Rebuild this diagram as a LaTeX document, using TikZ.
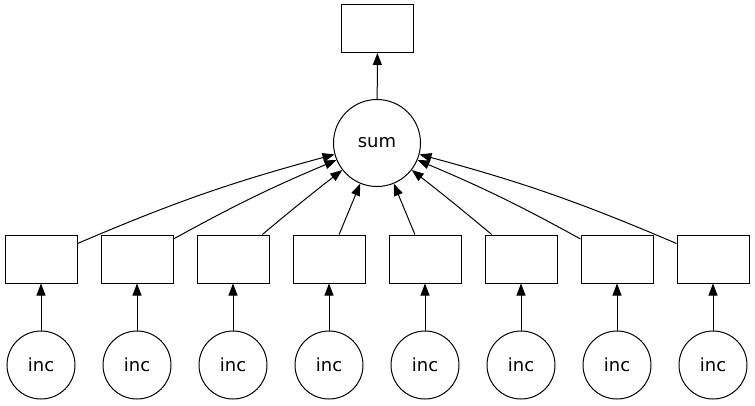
\documentclass[tikz,border=0pt]{standalone}
\usepackage{fontspec}
\setmainfont{DejaVu Sans}
\usetikzlibrary{arrows.meta}

\begin{document}
\begin{tikzpicture}[x=1pt, y=1pt, line width=1pt,
    chunk/.style={draw, rectangle, minimum width=72pt, minimum height=48pt, inner sep=0pt},
    task/.style={draw, circle, inner sep=0pt, font=\fontsize{18}{22}\selectfont},
    dep/.style={-{Triangle[length=12pt, width=9pt]}}]

    \useasboundingbox (0,0) rectangle (755,405);

    % result and reduction
    \node[chunk] (out) at (377.5,376.5) {};
    \node[task, minimum size=87pt] (sum) at (377,262) {sum};
    \path[draw, dep] (sum) -- (out);

    % the eight chunks and their tasks
    \foreach \i/\bend in {1/4, 2/3, 3/1, 4/0, 5/0, 6/-1, 7/-3, 8/-4} {
        \node[chunk] (chunk\i) at ({41+96*(\i-1)},146) {};
        \node[task, minimum size=68pt] (inc\i) at ({41+96*(\i-1)},40) {inc};
        \path[draw, dep] (inc\i) -- (chunk\i);
        \path[draw, dep] (chunk\i) to[bend left=\bend] (sum);
    }

\end{tikzpicture}
\end{document}
